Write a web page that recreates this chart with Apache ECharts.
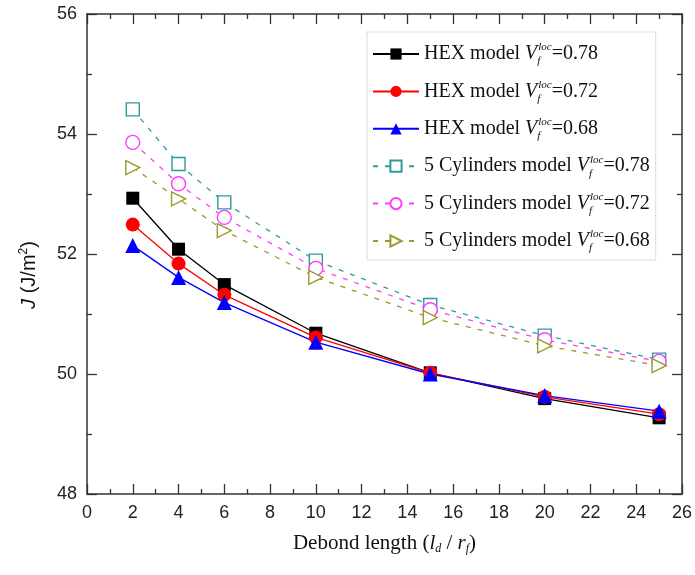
<!DOCTYPE html>
<html>
<head>
<meta charset="utf-8">
<script src="https://cdn.jsdelivr.net/npm/echarts@6/dist/echarts.min.js"></script>
<style>html,body{margin:0;padding:0;background:#fff}#c{width:695px;height:575px}</style>
</head>
<body>
<div id="c"></div>
<script>
// Data
var debondLength = [2, 4, 6, 10, 15, 20, 25];
var hex078 = [52.93, 52.08, 51.49, 50.68, 50.02, 49.59, 49.27];
var hex072 = [52.49, 51.84, 51.32, 50.61, 50.02, 49.62, 49.33];
var hex068 = [52.14, 51.61, 51.19, 50.53, 50.00, 49.64, 49.38];
var cyl078 = [54.41, 53.50, 52.86, 51.89, 51.15, 50.64, 50.24];
var cyl072 = [53.86, 53.17, 52.61, 51.76, 51.07, 50.57, 50.21];
var cyl068 = [53.44, 52.92, 52.39, 51.61, 50.94, 50.47, 50.14];
var seriesNames = ['HEX 0.78', 'HEX 0.72', 'HEX 0.68', 'Cyl 0.78', 'Cyl 0.72', 'Cyl 0.68'];
var legendPrefix = ['HEX model ', 'HEX model ', 'HEX model ', '5 Cylinders model ', '5 Cylinders model ', '5 Cylinders model '];
var legendValue = ['0.78', '0.72', '0.68', '0.78', '0.72', '0.68'];
var xTicks = {min: 0, max: 26, interval: 2};
var yTicks = {min: 48, max: 56, interval: 2};

function pairs(ys) { return debondLength.map(function (x, i) { return [x, ys[i]]; }); }

var serif = '"Liberation Serif", "Times New Roman", serif';
var sans = '"Liberation Sans", Arial, sans-serif';
var axisCol = '#333';

function mkAxis(type, pos, show, r) {
  return {
    type: 'value', position: pos, min: r.min, max: r.max, interval: r.interval,
    axisLine: {show: true, onZero: false, lineStyle: {color: axisCol, width: 1.5}},
    axisTick: {show: true, inside: true, length: 10, lineStyle: {color: axisCol, width: 1.3}},
    minorTick: {show: true, splitNumber: 2, length: 5, lineStyle: {color: axisCol, width: 1.3}},
    splitLine: {show: false}, minorSplitLine: {show: false},
    axisLabel: {show: show, fontFamily: sans, fontSize: 18, color: '#222', margin: 10}
  };
}

var xMain = mkAxis('x', 'bottom', true, xTicks);
xMain.name = 'Debond length ({i|l}{sub|d} / {i|r}{sub|f})';
xMain.nameLocation = 'middle';
xMain.nameGap = 37;
xMain.nameTextStyle = {fontFamily: serif, fontSize: 21, color: '#111',
  rich: {i: {fontFamily: serif, fontSize: 21, fontStyle: 'italic', color: '#111'},
         sub: {fontFamily: serif, fontSize: 12, fontStyle: 'italic', color: '#111', padding: [12, 0, 0, 0]}}};
var xTop = mkAxis('x', 'top', false, xTicks);

var yMain = mkAxis('y', 'left', true, yTicks);
yMain.name = '{j|J} (J/m{s|2})';
yMain.nameLocation = 'middle';
yMain.nameGap = 47;
yMain.nameTextStyle = {fontFamily: sans, fontSize: 20, color: '#111', padding: [0, 42, 0, 0],
  rich: {j: {fontFamily: sans, fontSize: 20, fontStyle: 'italic', color: '#111'},
         s: {fontFamily: sans, fontSize: 12, color: '#111', padding: [0, 0, 10, 0]}}};
var yRight = mkAxis('y', 'right', false, yTicks);

var teal = '#2E9A9A', mag = '#FF3CFF', olive = '#9A9A2E';
var triRight = 'path://M0,0 L10,5 L0,10 Z';

function solid(name, data, color, symbol, size) {
  return {name: name, type: 'line', data: pairs(data), symbol: symbol, symbolSize: size,
    xAxisIndex: 0, yAxisIndex: 0,
    lineStyle: {color: color, width: 1.3}, itemStyle: {color: color},
    emphasis: {disabled: true}, animation: false};
}
function hollow(name, data, color, symbol, size) {
  return {name: name, type: 'line', data: pairs(data), symbol: symbol, symbolSize: size,
    xAxisIndex: 0, yAxisIndex: 0,
    lineStyle: {color: color, width: 1.3, type: [5, 7]},
    itemStyle: {color: '#fff', borderColor: color, borderWidth: 1.4},
    emphasis: {disabled: true}, animation: false};
}

var series = [
  solid(seriesNames[0], hex078, '#000', 'rect', 13),
  solid(seriesNames[1], hex072, '#FF0000', 'circle', 14),
  solid(seriesNames[2], hex068, '#0000FF', 'triangle', 15),
  hollow(seriesNames[3], cyl078, teal, 'rect', 13),
  hollow(seriesNames[4], cyl072, mag, 'circle', 14),
  hollow(seriesNames[5], cyl068, olive, triRight, 14)
];

var chart = echarts.init(document.getElementById('c'), null, {renderer: 'canvas'});
chart.setOption({
  animation: false,
  backgroundColor: '#fff',
  grid: {left: 87, right: 10, top: 14, bottom: 81, containLabel: false},
  xAxis: [xMain, xTop],
  yAxis: [yMain, yRight],
  legend: {
    orient: 'vertical', left: 367, top: 32,
    padding: [10, 6, 6, 5],
    itemGap: 12.4, itemWidth: 46, itemHeight: 14,
    borderColor: '#bbb', borderWidth: 1, borderType: 'dotted',
    data: seriesNames,
    formatter: function (name) {
      var i = seriesNames.indexOf(name);
      return '{t|' + legendPrefix[i] + '}{v|V}{sub|f}{sup|loc}{t|=' + legendValue[i] + '}';
    },
    textStyle: {
      fontFamily: serif, fontSize: 20, color: '#111', lineHeight: 22,
      rich: {
        t: {fontFamily: serif, fontSize: 20, color: '#111', lineHeight: 22},
        v: {fontFamily: serif, fontSize: 20, fontStyle: 'italic', color: '#111', lineHeight: 22},
        sub: {fontFamily: serif, fontSize: 11, fontStyle: 'italic', color: '#111', width: 0, align: 'left', padding: [15, 0, 0, 0]},
        sup: {fontFamily: serif, fontSize: 11, fontStyle: 'italic', color: '#111', padding: [0, 0, 13, 1]}
      }
    }
  },
  series: series
});
</script>
</body>
</html>
